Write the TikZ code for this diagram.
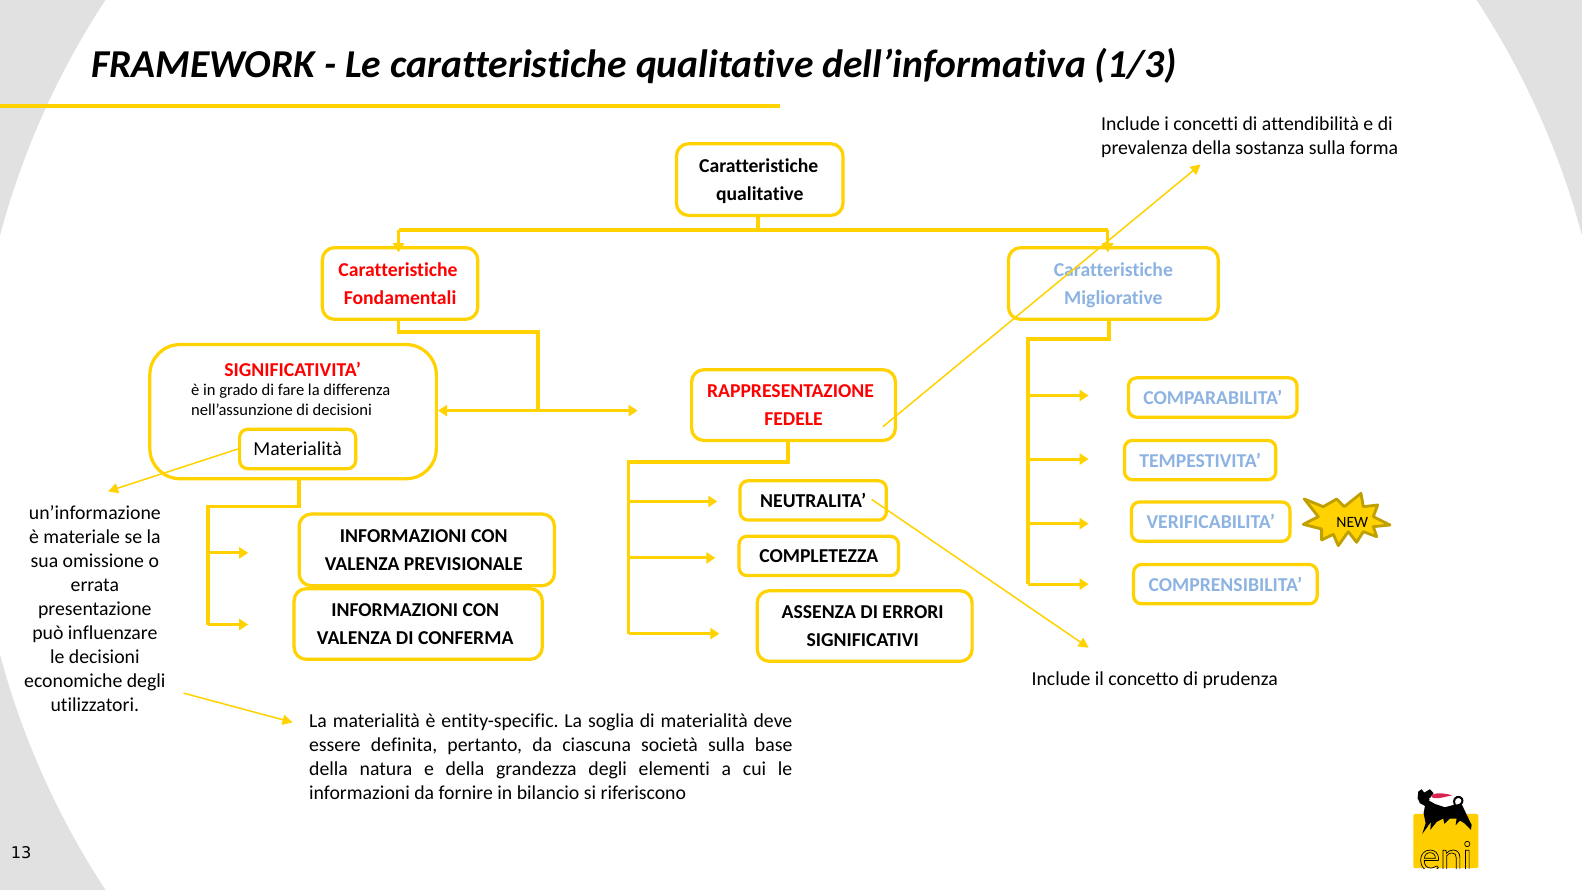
\documentclass[tikz,border=0pt]{standalone}
\usepackage{fontspec}
\setmainfont{Carlito}[Ligatures=NoCommon]
\newfontfamily\pgfont{DejaVu Sans}
\usetikzlibrary{arrows.meta}
\definecolor{eniy}{HTML}{FFD200}
\definecolor{enib}{HTML}{8DB3E2}
\definecolor{enigray}{HTML}{E1E1E1}
\definecolor{enir}{HTML}{FF0000}
\definecolor{stard}{HTML}{BFA000}
\definecolor{eniflame}{HTML}{D9234F}
\newcommand{\nodesc}[1]{\raisebox{0pt}[\height][0pt]{#1}}
\tikzset{
 wh/.style 2 args={minimum width=#1*0.5pt-0.5pt,minimum height=#2*0.5pt-0.5pt},
 bx/.style={draw=eniy,line width=1.6pt,rounded corners=6pt,inner sep=0pt,align=center,text=black,font=\fontsize{9.75}{14}\selectfont\bfseries},
 redt/.style={text=enir},
 bluet/.style={text=enib},
 trunk/.style={draw=eniy,line width=1.9pt},
 branch/.style={draw=eniy,line width=1.5pt,-{Triangle[length=4.5pt,width=5.5pt]}},
 thinarrow/.style={draw=eniy,line width=0.75pt,-{Triangle[length=5pt,width=5pt]}},
 txt/.style={inner sep=0pt,align=left,text=black,font=\fontsize{9.8}{11.85}\selectfont\frenchspacing},
}
\begin{document}
\begin{tikzpicture}[x=0.5pt,y=-0.5pt]
\useasboundingbox (0,0) rectangle (1568,882);
% background
\fill[enigray] (0,0) rectangle (1568,882);
\fill[white] (784,441) ellipse [x radius=811,y radius=807];
\fill[white] (1400,441) rectangle (1568,882);
% title
\node[anchor=base west,inner sep=0pt,text=black,font=\fontsize{19.6}{20}\selectfont\bfseries\itshape] (title) at (90,77) {FRAMEWORK - Le caratteristiche qualitative dell’informativa (1/3)};
\coordinate (ruleA) at (0,105);
\coordinate (ruleB) at (773,105);
\draw[eniy,line width=1.7pt] (ruleA) -- (ruleB);
% boxes
\node[bx,wh={166}{72}] (Q) at (753,178) {\hspace*{-1pt}Caratteristiche\\\nodesc{qualitative}};
\node[bx,redt,wh={155}{72}] (F) at (396.5,281) {\hspace*{-2pt}Caratteristiche\\Fondamentali};
\node[bx,bluet,wh={209}{72}] (M) at (1103.5,281) {Caratteristiche\\\nodesc{Migliorative}};
\node[draw=eniy,line width=1.6pt,rounded corners=15pt,wh={285}{134},inner sep=0pt] (S) at (290.5,408) {};
\node[inner sep=0pt,text=enir,font=\fontsize{9.75}{11}\selectfont\bfseries] (Stitle) at (290,366) {SIGNIFICATIVITA’};
\node[txt,anchor=north west,font=\fontsize{8.2}{10}\selectfont] (Sbody) at (189,380) {è in grado di fare la differenza\\nell’assunzione di decisioni};
\node[bx,font=\fontsize{9.8}{11}\selectfont,rounded corners=4pt,wh={116}{40}] (Mat) at (295,445) {\rule{0pt}{2pt}Materialità};
\node[bx,redt,wh={203}{71},yshift=0pt] (R) at (786.5,401.5) {\hspace*{-3pt}RAPPRESENTAZIONE\\FEDELE};
\node[bx,bluet,rounded corners=4pt,wh={168}{40}] (C1) at (1202,394) {COMPARABILITA’};
\node[bx,bluet,rounded corners=4pt,wh={151}{40}] (C2) at (1189.5,456) {TEMPESTIVITA’};
\node[bx,bluet,rounded corners=4pt,wh={158}{40}] (C3) at (1200,517) {VERIFICABILITA’};
\node[bx,bluet,rounded corners=4pt,wh={183}{40}] (C4) at (1214.5,579) {COMPRENSIBILITA’};
\node[bx,rounded corners=4pt,wh={146}{40}] (N) at (806,496) {NEUTRALITA’};
\node[bx,rounded corners=4pt,wh={159}{40}] (P) at (811.5,551) {COMPLETEZZA};
\node[bx,wh={214}{71}] (A) at (857,620.5) {\hspace*{-2pt}ASSENZA DI ERRORI\\\hspace*{-2pt}SIGNIFICATIVI};
\node[bx,wh={254}{72}] (I1) at (423,545) {\hspace*{-3pt}INFORMAZIONI CON\\\hspace*{-3pt}VALENZA PREVISIONALE};
\node[bx,wh={247}{71}] (I2) at (414.5,618.5) {\hspace*{-3pt}INFORMAZIONI CON\\\hspace*{-3pt}VALENZA DI CONFERMA};
% free texts
\node[txt,anchor=north west] (T1) at (1091,115) {Include i concetti di attendibilità e di\\prevalenza della sostanza sulla forma};
\node[txt,anchor=west] (T2) at (1022,674) {Include il concetto di prudenza};
\node[txt,align=center,anchor=north] (T3) at (94,501) {un’informazione\\è materiale se la\\sua omissione o\\errata\\presentazione\\può influenzare\\le decisioni\\economiche degli\\utilizzatori.};
\node[txt,align=justify,text width=239.5pt,anchor=north west] (T4) at (306,707) {La materialità è entity-specific. La soglia di materialità deve\linebreak essere definita, pertanto, da ciascuna società sulla base\linebreak della natura e della grandezza degli elementi a cui le\linebreak informazioni da fornire in bilancio si riferiscono};
\node[inner sep=0pt,text=black,font=\fontsize{8}{10}\selectfont\pgfont] (pg) at (21,845) {13};
% top connectors
\coordinate (q1) at (751,228);
\coordinate (fT) at (395,228);
\coordinate (mT) at (1098,228);
\coordinate (fI) at (395,250);
\coordinate (mI) at (1098,250);
\draw[trunk] (751,214) -- (q1);
\draw[trunk] (fT) -- (mT);
\draw[branch] (fT) -- (fI);
\draw[branch] (mT) -- (mI);
% fondamentali
\coordinate (f1) at (395,329);
\coordinate (f2) at (533,329);
\coordinate (f3) at (533,407);
\coordinate (rL) at (632,407);
\draw[trunk] (395,317) -- (f1) -- (f2) -- (f3);
\draw[draw=eniy,line width=1.5pt,{Triangle[length=4.5pt,width=5.5pt]}-{Triangle[length=4.5pt,width=5.5pt]}] (S.east |- f3) -- (rL);
% migliorative
\coordinate (m1) at (1099,336);
\coordinate (m2) at (1019,336);
\coordinate (m3) at (1019,579);
\draw[trunk] (1099,317) -- (m1) -- (m2) -- (m3);
\foreach \yy/\nm in {392/a,455/b,519/c,579/d}{
  \coordinate (m\nm) at (1019,\yy);
  \coordinate (me\nm) at (1079,\yy);
  \draw[branch] (m\nm) -- (me\nm);
}
% rappresentazione
\coordinate (r1) at (781,458);
\coordinate (r2) at (623,458);
\coordinate (r3) at (623,628);
\draw[trunk] (781,437) -- (r1) -- (r2) -- (r3);
\foreach \yy/\xx/\nm in {497/711/a,553/709/b,628/713/c}{
  \coordinate (r\nm) at (623,\yy);
  \coordinate (re\nm) at (\xx,\yy);
  \draw[branch] (r\nm) -- (re\nm);
}
% significativita
\coordinate (s1) at (296,502);
\coordinate (s2) at (206,502);
\coordinate (s3) at (206,619);
\draw[trunk] (296,475) -- (s1) -- (s2) -- (s3);
\foreach \yy/\nm in {548/a,619/b}{
  \coordinate (s\nm) at (206,\yy);
  \coordinate (se\nm) at (246,\yy);
  \draw[branch] (s\nm) -- (se\nm);
}
% thin arrows
\coordinate (t1) at (107,487);
\draw[thinarrow] (Mat.west) -- (t1);
\coordinate (t2a) at (875,423);
\coordinate (t2b) at (1190,163);
\draw[thinarrow] (t2a) -- (t2b);
\coordinate (t3a) at (864,495);
\coordinate (t3b) at (1079,642);
\draw[thinarrow] (t3a) -- (t3b);
\coordinate (t4a) at (182,687);
\coordinate (t4b) at (290,716);
\draw[thinarrow] (t4a) -- (t4b);
% star
\begin{scope}[shift={(1283.5,480.7)},scale=0.3304]
\draw[fill=eniy,draw=stard,line width=1.4pt,line join=round]
 (28,42) -- (85,65) -- (125,42) -- (148,65) -- (198,25) -- (205,65) -- (248,60) -- (235,95) -- (285,120) -- (235,125) -- (245,155) -- (205,140) -- (185,172) -- (160,140) -- (130,182) -- (115,148) -- (80,165) -- (80,132) -- (25,118) -- (70,95) -- cycle;
\node[inner sep=0pt,text=black,font=\fontsize{7.8}{9}\selectfont] (NEW) at (172,112) {NEW};
\end{scope}
% logo
\begin{scope}[shift={(1392.5,773)},scale=0.3304]
\fill[eniy!95!orange,rounded corners=1pt] (25,102) rectangle (220,265);
\begin{scope}
\clip (25,102) rectangle (220,265);
\node[anchor=base,inner sep=0pt,text=black,font=\fontsize{21}{22}\selectfont] (eni) at (122,272) {\special{pdf:code q 1 Tr 0.35 w}eni\special{pdf:code Q}};
\end{scope}
\fill[black] (40,35) -- (50,28) -- (58,38) -- (75,28) -- (86,40) -- (78,50) -- (72,62) -- (90,72) -- (120,82) -- (150,74) -- (170,72) -- (182,98) -- (200,135) -- (198,150) -- (178,130) -- (165,122) -- (152,136) -- (155,116) -- (135,116) -- (118,132) -- (115,116) -- (95,126) -- (76,150) -- (78,126) -- (68,140) -- (52,162) -- (62,130) -- (56,100) -- (60,78) -- (45,70) -- (38,55) -- cycle;
\draw[black,line width=1pt,line cap=round] (150,76) .. controls (142,60) and (152,48) .. (165,52) .. controls (176,56) and (174,70) .. (165,74);
\fill[white] (72,56) -- (95,48) -- (135,52) -- (145,68) -- (120,78) -- (90,68) -- cycle;
\fill[eniflame] (78,48) .. controls (88,38) and (110,38) .. (142,46) .. controls (122,50) and (100,58) .. (84,54) -- cycle;
\end{scope}
\end{tikzpicture}
\end{document}
